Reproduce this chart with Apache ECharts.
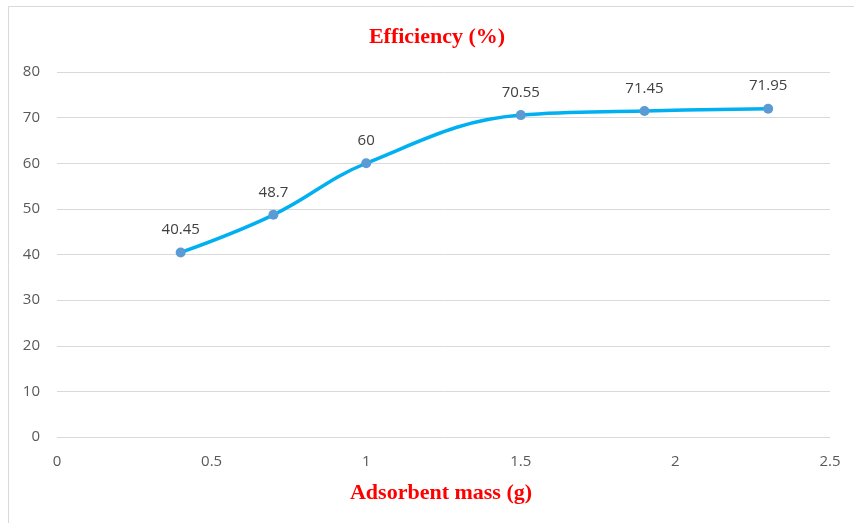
<!DOCTYPE html>
<html>
<head>
<meta charset="utf-8">
<script src="https://cdn.jsdelivr.net/npm/echarts@6/dist/echarts.min.js"></script>
<style>
  html, body { margin: 0; padding: 0; background: #fff; }
  #main { width: 854px; height: 523px; }
</style>
</head>
<body>
<div id="main"></div>
<script>
// adsorbent mass (g) vs removal efficiency (%)
var massValues = [0.4, 0.7, 1, 1.5, 1.9, 2.3];
var efficiencyValues = [40.45, 48.7, 60, 70.55, 71.45, 71.95];

var chartTitle = 'Efficiency (%)';
var xAxisTitle = 'Adsorbent mass (g)';

var dom = document.getElementById('main');
var myChart = echarts.init(dom);

var points = massValues.map(function (m, i) {
  return [m, efficiencyValues[i]];
});

var option = {
  animation: false,
  textStyle: {
    fontFamily: 'Open Sans',
  },
  graphic: [
    // only left and top edges of the frame are visible
    {
      type: 'line',
      shape: { x1: 8.5, y1: 6.5, x2: 8.5, y2: 523 },
      style: { stroke: '#d9d9d9', lineWidth: 1 },
      silent: true,
    },
    {
      type: 'line',
      shape: { x1: 8.5, y1: 6.5, x2: 854, y2: 6.5 },
      style: { stroke: '#d9d9d9', lineWidth: 1 },
      silent: true,
    },
    {
      type: 'text',
      x: 437,
      y: 26,
      style: {
        text: chartTitle,
        align: 'center',
        font: 'bold 22px "Liberation Serif"',
        fill: '#ff0000',
      },
    },
    {
      type: 'text',
      x: 441,
      y: 482,
      style: {
        text: xAxisTitle,
        align: 'center',
        font: 'bold 22px "Liberation Serif"',
        fill: '#ff0000',
      },
    },
  ],
  grid: {
    left: 57,
    right: 24,
    top: 72,
    bottom: 86,
  },
  xAxis: {
    type: 'value',
    min: 0,
    max: 2.5,
    interval: 0.5,
    axisLine: { show: false },
    axisTick: { show: false },
    splitLine: { show: false },
    axisLabel: {
      color: '#595959',
      fontSize: 15,
      margin: 17,
    },
  },
  yAxis: {
    type: 'value',
    min: 0,
    max: 80,
    interval: 10,
    axisLine: { show: false },
    axisTick: { show: false },
    splitLine: {
      show: true,
      lineStyle: { color: '#d9d9d9', width: 1 },
    },
    axisLabel: {
      color: '#595959',
      fontSize: 15,
      margin: 17,
    },
  },
  series: [
    {
      name: chartTitle,
      type: 'line',
      data: points,
      smooth: 0.4,
      symbol: 'circle',
      symbolSize: 10,
      lineStyle: {
        color: '#00b0f0',
        width: 3.5,
      },
      itemStyle: {
        color: '#5b9bd5',
      },
      label: {
        show: true,
        position: 'top',
        distance: 10,
        color: '#404040',
        fontSize: 15,
      },
    },
  ],
};

if (option && typeof option === "object") {
  myChart.setOption(option, true);
}
</script>
</body>
</html>
